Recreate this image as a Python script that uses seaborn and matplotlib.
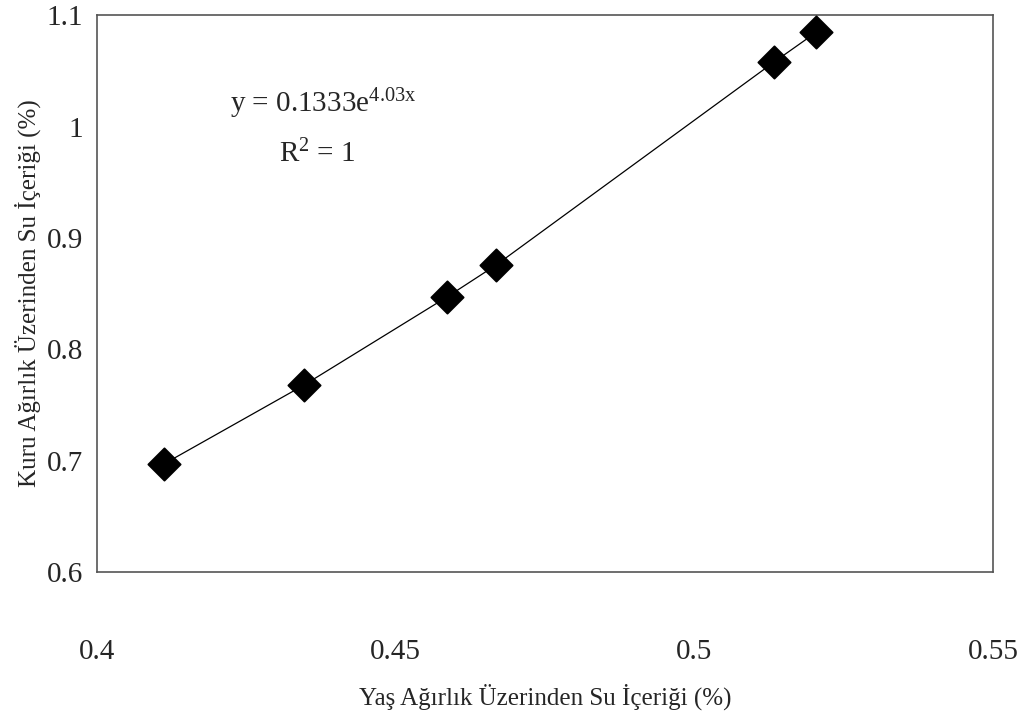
import pandas as pd
import matplotlib
matplotlib.use("Agg")
import matplotlib.pyplot as plt
import seaborn as sns

# Water content: wet basis (x) vs dry basis (y)
wet_basis = [0.4112, 0.4347, 0.4586, 0.4668, 0.5133, 0.5204]
dry_basis = [0.697, 0.768, 0.847, 0.8756, 1.0578, 1.0847]

x_ticks = [0.4, 0.45, 0.5, 0.55]
y_ticks = [0.6, 0.7, 0.8, 0.9, 1.0, 1.1]
y_tick_labels = ["0.6", "0.7", "0.8", "0.9", "1", "1.1"]
x_tick_labels = ["0.4", "0.45", "0.5", "0.55"]

df = pd.DataFrame({"wet": wet_basis, "dry": dry_basis})

sns.set_style("white")
plt.rcParams["font.family"] = ["Liberation Serif", "DejaVu Serif"]
plt.rcParams["mathtext.fontset"] = "custom"
plt.rcParams["mathtext.rm"] = "Liberation Serif"
plt.rcParams["mathtext.it"] = "Liberation Serif"

fig = plt.figure(figsize=(10.28, 7.24), dpi=100)
ax = fig.add_axes([0.0944, 0.21, 0.8716, 0.769])

# trend line through the points, then the markers
sns.lineplot(data=df, x="wet", y="dry", color="black", linewidth=0.9, ax=ax)
sns.scatterplot(data=df, x="wet", y="dry", marker="D", s=270, color="black",
                edgecolor="black", ax=ax, zorder=3)

ax.set_xlim(0.4, 0.55)
ax.set_ylim(0.6, 1.1)
ax.set_xticks(x_ticks)
ax.set_xticklabels(x_tick_labels, fontsize=21)
ax.set_yticks(y_ticks)
ax.set_yticklabels(y_tick_labels, fontsize=21)
ax.tick_params(axis="both", length=0)
ax.tick_params(axis="x", pad=48)
ax.tick_params(axis="y", pad=10)

for side in ax.spines.values():
    side.set_color("#555555")
    side.set_linewidth(1.2)

ax.set_xlabel("Yaş Ağırlık Üzerinden Su İçeriği (%)", fontsize=18, labelpad=14)
ax.set_ylabel("Kuru Ağırlık Üzerinden Su İçeriği (%)", fontsize=18, labelpad=4)

ax.text(0.4223, 1.013, r"y = 0.1333e$^{\mathrm{4.03x}}$", fontsize=21)
ax.text(0.4305, 0.968, r"R$^{\mathrm{2}}$ = 1", fontsize=21)

fig.savefig("out.png", dpi=100)
